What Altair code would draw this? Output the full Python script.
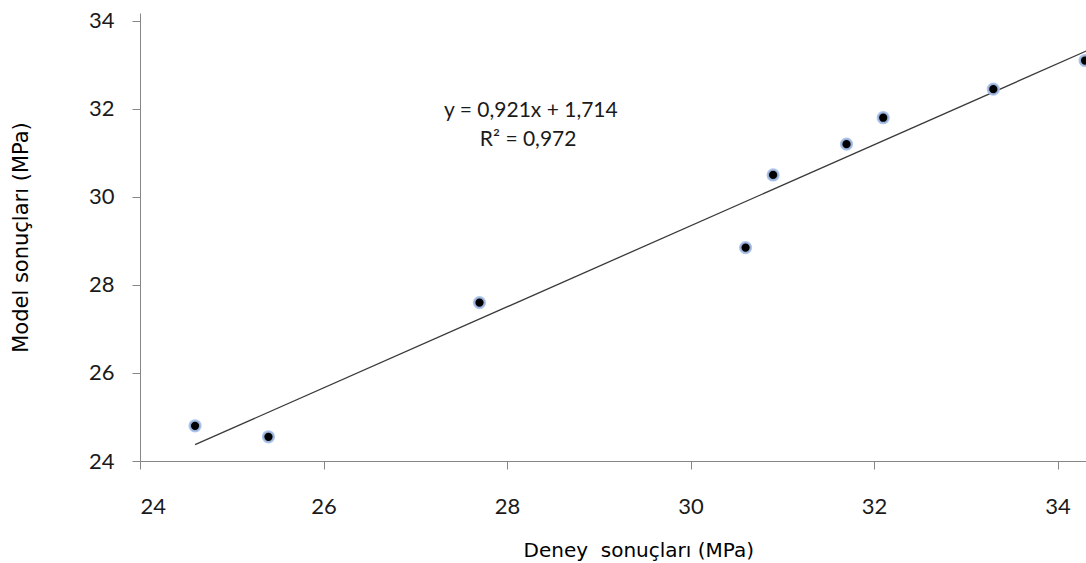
import altair as alt
import pandas as pd

# Data
deney = [24.6, 25.4, 27.7, 30.6, 30.9, 31.7, 32.1, 33.3, 34.3]
model = [24.8, 24.55, 27.6, 28.85, 30.5, 31.2, 31.8, 32.45, 33.1]

slope = 0.921
intercept = 1.714
trend_x = [24.6, 34.6]

eq_labels = ["y = 0,921x + 1,714", "R\u00b2 = 0,972"]
eq_x = [28.26, 28.23]
eq_y = [31.95, 31.30]

x_ticks = [24, 26, 28, 30, 32, 34]
y_ticks = [24, 26, 28, 30, 32, 34]

pts = pd.DataFrame({"x": deney, "y": model})
trend = pd.DataFrame({"x": trend_x, "y": [slope * v + intercept for v in trend_x]})
eq = pd.DataFrame({"label": eq_labels, "x": eq_x, "y": eq_y})

axis_common = dict(
    grid=False,
    format="d",
    domainColor="#868686",
    domainWidth=1,
    tickColor="#868686",
    tickWidth=1,
    tickSize=8,
    labelFont="Lato",
    labelFontSize=22,
    labelColor="#1a1a1a",
    titleFont="DejaVu Sans",
    titleFontWeight="normal",
    titleColor="#000000",
)

xscale = alt.Scale(domain=[24, 34.31], nice=False, zero=False)
yscale = alt.Scale(domain=[24, 34.18], nice=False, zero=False)

xaxis = alt.Axis(
    values=x_ticks,
    title="Deney\u00a0 sonuçları (MPa)",
    titleFontSize=20,
    titleAlign="left",
    titleBaseline="alphabetic",
    titleX=383,
    titleY=95,
    labelBaseline="alphabetic",
    labelPadding=44,
    **axis_common,
)
yaxis = alt.Axis(
    values=y_ticks,
    title="Model sonuçları (MPa)",
    titleFontSize=21,
    titleAngle=-90,
    titleAlign="center",
    titleBaseline="alphabetic",
    titleX=-113,
    titleY=224,
    labelBaseline="middle",
    labelPadding=18,
    **axis_common,
)

line = alt.Chart(trend).mark_line(color="#3a3a3a", strokeWidth=1.3, clip=True).encode(
    x=alt.X("x:Q", scale=xscale, axis=xaxis),
    y=alt.Y("y:Q", scale=yscale, axis=yaxis),
)

points = alt.Chart(pts).mark_point(
    shape="circle", filled=True, fill="#000000", stroke="#a6c0ea",
    strokeWidth=2.5, strokeOpacity=0.9, size=115, opacity=1,
).encode(
    x=alt.X("x:Q", scale=xscale),
    y=alt.Y("y:Q", scale=yscale),
)

text = alt.Chart(eq).mark_text(
    font="Lato", fontSize=21, color="#1a1a1a", align="center", baseline="middle"
).encode(
    x=alt.X("x:Q", scale=xscale),
    y=alt.Y("y:Q", scale=yscale),
    text="label:N",
)

chart = alt.layer(line, points, text).properties(
    width=946,
    height=448,
    autosize=alt.AutoSizeParams(type="none"),
    padding={"left": 140, "top": 13, "right": 0, "bottom": 102},
    background="white",
).configure_view(stroke=None)

chart.save("out.html", embed_options={"renderer": "svg", "actions": False})
